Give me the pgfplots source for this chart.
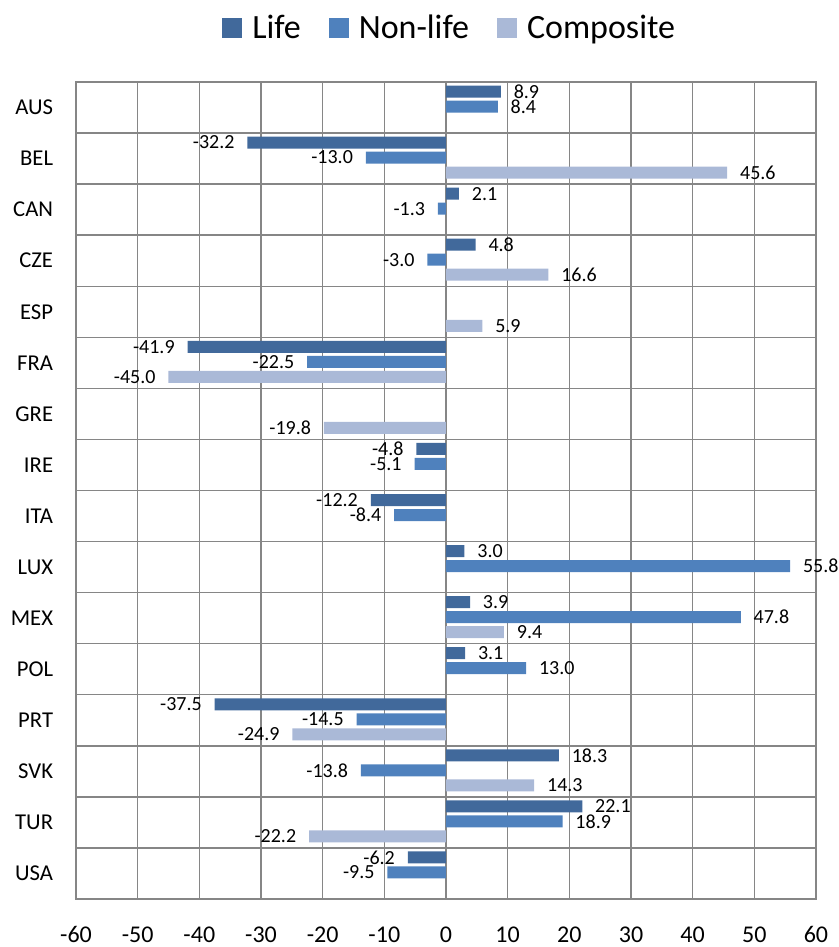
\documentclass[border=0pt]{standalone}
\usepackage{pgfplots}
\pgfplotsset{compat=1.18}
\usepackage{fontspec}
\setmainfont{Carlito}
\definecolor{lifec}{HTML}{41699B}
\definecolor{nonlifec}{HTML}{4F81BD}
\definecolor{compc}{HTML}{AAB9D7}
\definecolor{gridc}{HTML}{868686}
\begin{document}
\begin{tikzpicture}
\begin{axis}[
  at={(0,0)}, anchor=south west,
  scale only axis,
  width=555pt, height=612.75pt,
  xbar,
  xmin=-60, xmax=60,
  ymin=-0.5, ymax=15.5,
  xtick={-60,-50,...,60},
  ytick={0,...,15},
  yticklabels={USA,TUR,SVK,PRT,POL,MEX,LUX,ITA,IRE,GRE,FRA,ESP,CZE,CAN,BEL,AUS},
  minor ytick={-0.5,0.5,...,15.5},
  xmajorgrids=true,
  yminorgrids=true,
  major tick length=0pt, minor tick length=0pt,
  axis line style={gridc, line width=1.1pt},
  every major grid/.style={gridc, line width=1.1pt},
  every minor grid/.style={gridc, line width=1.1pt},
  /pgf/number format/assume math mode=true,
  xticklabel style={font=\fontsize{18pt}{20pt}\selectfont, anchor=center, inner sep=0pt, yshift=-26.5pt},
  yticklabel style={font=\fontsize{17pt}{19pt}\selectfont, anchor=east, inner sep=0pt, xshift=-17pt},
  bar width=9pt,
  nodes near coords,
  nodes near coords style={font=\fontsize{15pt}{17pt}\selectfont, inner xsep=9.5pt, inner ysep=0pt,
    /pgf/number format/.cd, fixed, fixed zerofill, precision=1, assume math mode=true},
  legend style={at={(0.5,1)}, anchor=center, xshift=3pt, yshift=40.5pt, draw=none, fill=none,
    legend columns=3, font=\fontsize{25.5pt}{28pt}\selectfont,
    /tikz/every odd column/.append style={column sep=5.5pt},
    /tikz/every even column/.append style={column sep=19pt},
    legend cell align=left},
  legend image code/.code={\fill[#1,draw=none] (0pt,-7.5pt) rectangle (15pt,7.5pt);},
]
\addplot[fill=lifec, draw=none, bar shift=12pt] coordinates {
 (8.9,15) (-32.2,14) (2.1,13) (4.8,12) (-41.9,10) (-4.8,8) (-12.2,7) (3.0,6)
 (3.9,5) (3.1,4) (-37.5,3) (18.3,2) (22.1,1) (-6.2,0)};
\addlegendentry{Life}
\addplot[fill=nonlifec, draw=none, bar shift=0.75pt] coordinates {
 (8.4,15) (-13.0,14) (-1.3,13) (-3.0,12) (-22.5,10) (-5.1,8) (-8.4,7) (55.8,6)
 (47.8,5) (13.0,4) (-14.5,3) (-13.8,2) (18.9,1) (-9.5,0)};
\addlegendentry{Non-life}
\addplot[fill=compc, draw=none, bar shift=-10.5pt] coordinates {
 (45.6,14) (16.6,12) (5.9,11) (-45.0,10) (-19.8,9) (9.4,5) (-24.9,3) (14.3,2) (-22.2,1)};
\addlegendentry{Composite}
\end{axis}
\pgfresetboundingbox
\path[use as bounding box] (-57pt,-36pt) rectangle (572.25pt,674.25pt);
\end{tikzpicture}
\end{document}
